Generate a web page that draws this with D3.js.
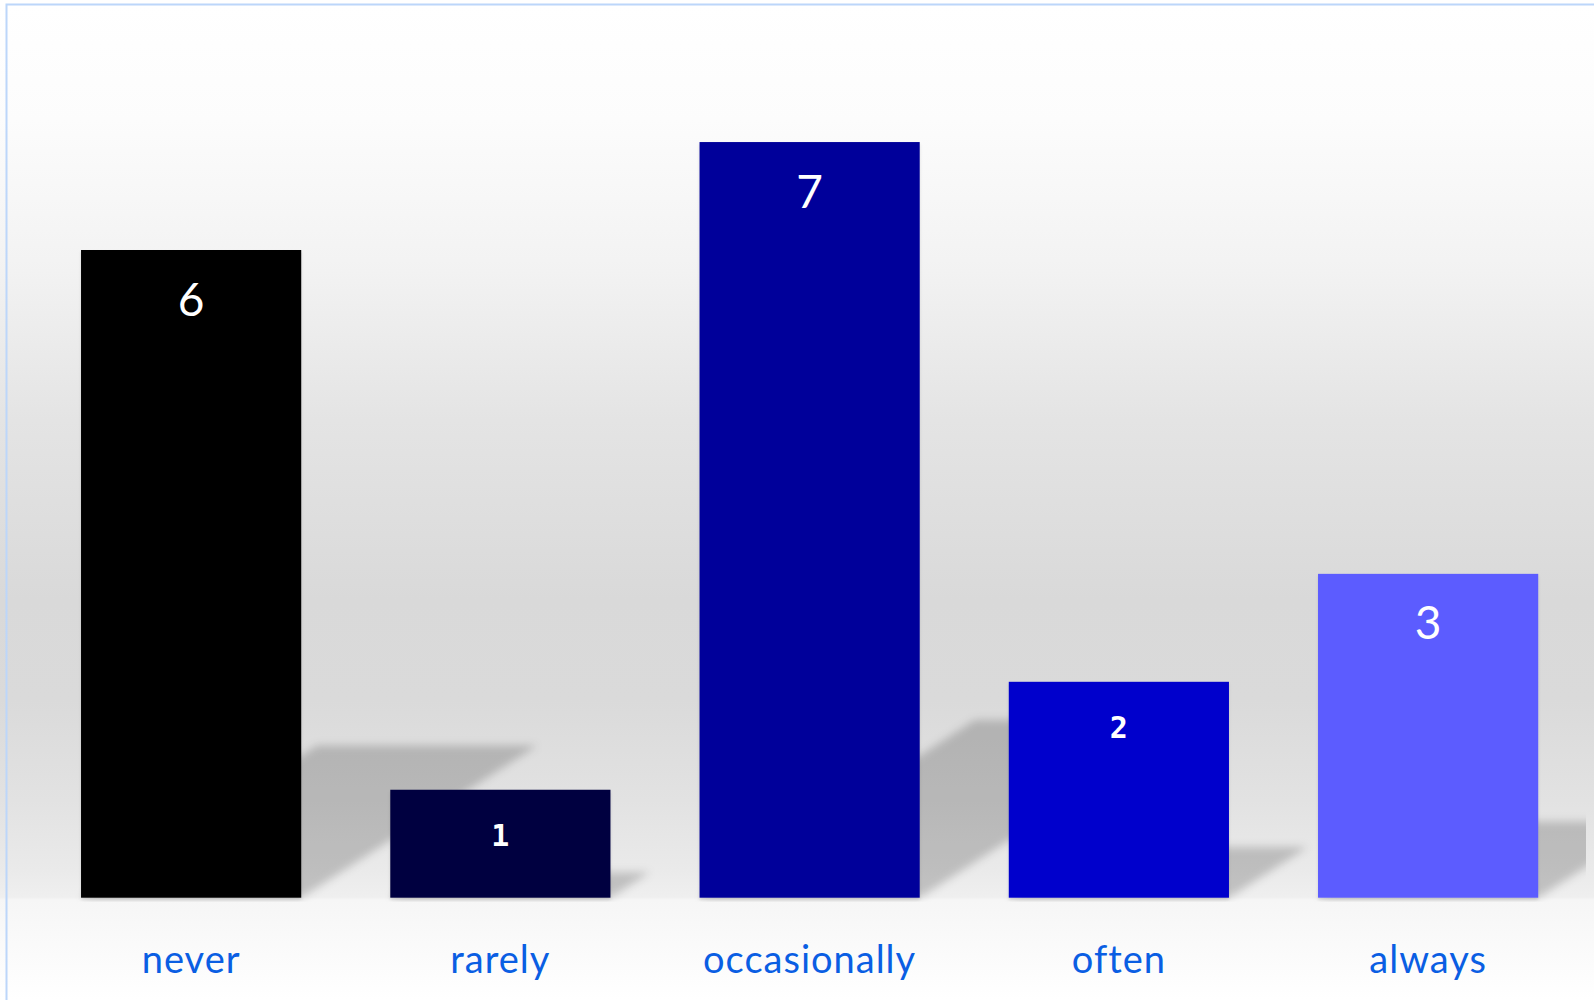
<!DOCTYPE html>
<html>
<head>
<meta charset="utf-8">
<script src="https://cdn.jsdelivr.net/npm/d3@7/dist/d3.min.js"></script>
<style>
  html, body { margin: 0; padding: 0; background: #ffffff; }
  svg { display: block; }
</style>
</head>
<body>
<svg id="chart" width="1594" height="1000"></svg>
<script>
const categories = ["never", "rarely", "occasionally", "often", "always"];
const values = [6, 1, 7, 2, 3];
const barColors = ["#000000", "#000040", "#00009a", "#0000cc", "#5c5cff"];

const W = 1594, H = 1000;
const baseY = 897.7;
const svg = d3.select("#chart");
const defs = svg.append("defs");

// background gradient
const bg = defs.append("linearGradient").attr("id", "bgGrad")
  .attr("gradientUnits", "userSpaceOnUse")
  .attr("x1", 0).attr("y1", 5).attr("x2", 0).attr("y2", 1000);
const stops = [
  [5, "#ffffff"], [120, "#fcfcfc"], [260, "#f3f3f3"], [420, "#e4e4e4"],
  [600, "#d9d9d9"], [700, "#dadada"], [800, "#e2e2e2"], [870, "#eaeaea"],
  [897, "#efefef"], [900, "#f6f6f6"], [1000, "#ffffff"]
];
stops.forEach(([y, c]) => bg.append("stop").attr("offset", ((y - 5) / 995)).attr("stop-color", c));

const blur = defs.append("filter").attr("id", "shadowBlur")
  .attr("x", "-20%").attr("y", "-20%").attr("width", "140%").attr("height", "140%");
blur.append("feGaussianBlur").attr("stdDeviation", 4);

const drop = defs.append("filter").attr("id", "dropShadow")
  .attr("x", "-5%").attr("y", "-5%").attr("width", "110%").attr("height", "110%");
drop.append("feDropShadow").attr("dx", 0).attr("dy", 2).attr("stdDeviation", 1.5)
  .attr("flood-color", "#000").attr("flood-opacity", 0.12);

defs.append("clipPath").attr("id", "plotClip")
  .append("rect").attr("x", 7).attr("y", 5).attr("width", 1586 - 7).attr("height", baseY + 4 - 5);

svg.append("rect").attr("x", 0).attr("y", 0).attr("width", W).attr("height", H)
  .attr("fill", "url(#bgGrad)");

// border
svg.append("path").attr("d", `M6.5,${H} L6.5,4.5 L${W},4.5`)
  .attr("fill", "none").attr("stroke", "#bcd6fa").attr("stroke-width", 2);

const x = d3.scaleBand().domain(categories).range([36.5, 1582.75])
  .paddingInner(0.288).paddingOuter(0.144);
const y = d3.scaleLinear().domain([0, 8]).range([baseY, baseY - 8 * 107.95]);

const plot = svg.append("g").attr("clip-path", "url(#plotClip)");

// projected shadows
plot.append("g").attr("filter", "url(#shadowBlur)")
  .selectAll("path").data(values).join("path")
  .attr("d", (d, i) => {
    const x0 = x(categories[i]), x1 = x0 + x.bandwidth();
    const h = (baseY - y(d)) * 0.235;
    const dx = h * 1.55;
    return `M${x0},${baseY} L${x1},${baseY} L${x1 + dx},${baseY - h} L${x0 + dx},${baseY - h} Z`;
  })
  .attr("fill", "#000").attr("fill-opacity", 0.19);

// bars
plot.append("g").selectAll("rect").data(values).join("rect")
  .attr("x", (d, i) => x(categories[i]))
  .attr("y", d => y(d))
  .attr("width", x.bandwidth())
  .attr("height", d => baseY - y(d))
  .attr("fill", (d, i) => barColors[i])
  .attr("filter", "url(#dropShadow)");

// value labels
svg.append("g").selectAll("text").data(values).join("text")
  .attr("x", (d, i) => x(categories[i]) + x.bandwidth() / 2)
  .attr("y", d => y(d) + (d < 3 ? 46 : 48))
  .attr("text-anchor", "middle")
  .attr("dominant-baseline", "central")
  .attr("fill", "#ffffff")
  .attr("font-family", d => d < 3 ? "'DejaVu Sans Mono', monospace" : "Lato, 'Open Sans', sans-serif")
  .attr("font-weight", d => d < 3 ? "bold" : "normal")
  .attr("font-size", d => d < 3 ? 30 : 46)
  .text(d => d);

// category labels
svg.append("g").selectAll("text").data(categories).join("text")
  .attr("x", d => x(d) + x.bandwidth() / 2)
  .attr("y", 973)
  .attr("text-anchor", "middle")
  .attr("fill", "#0a5ee3")
  .attr("font-family", "Lato, 'Open Sans', sans-serif")
  .attr("font-weight", 400)
  .attr("font-size", 38)
  .attr("letter-spacing", 1)
  .text(d => d);
</script>
</body>
</html>
